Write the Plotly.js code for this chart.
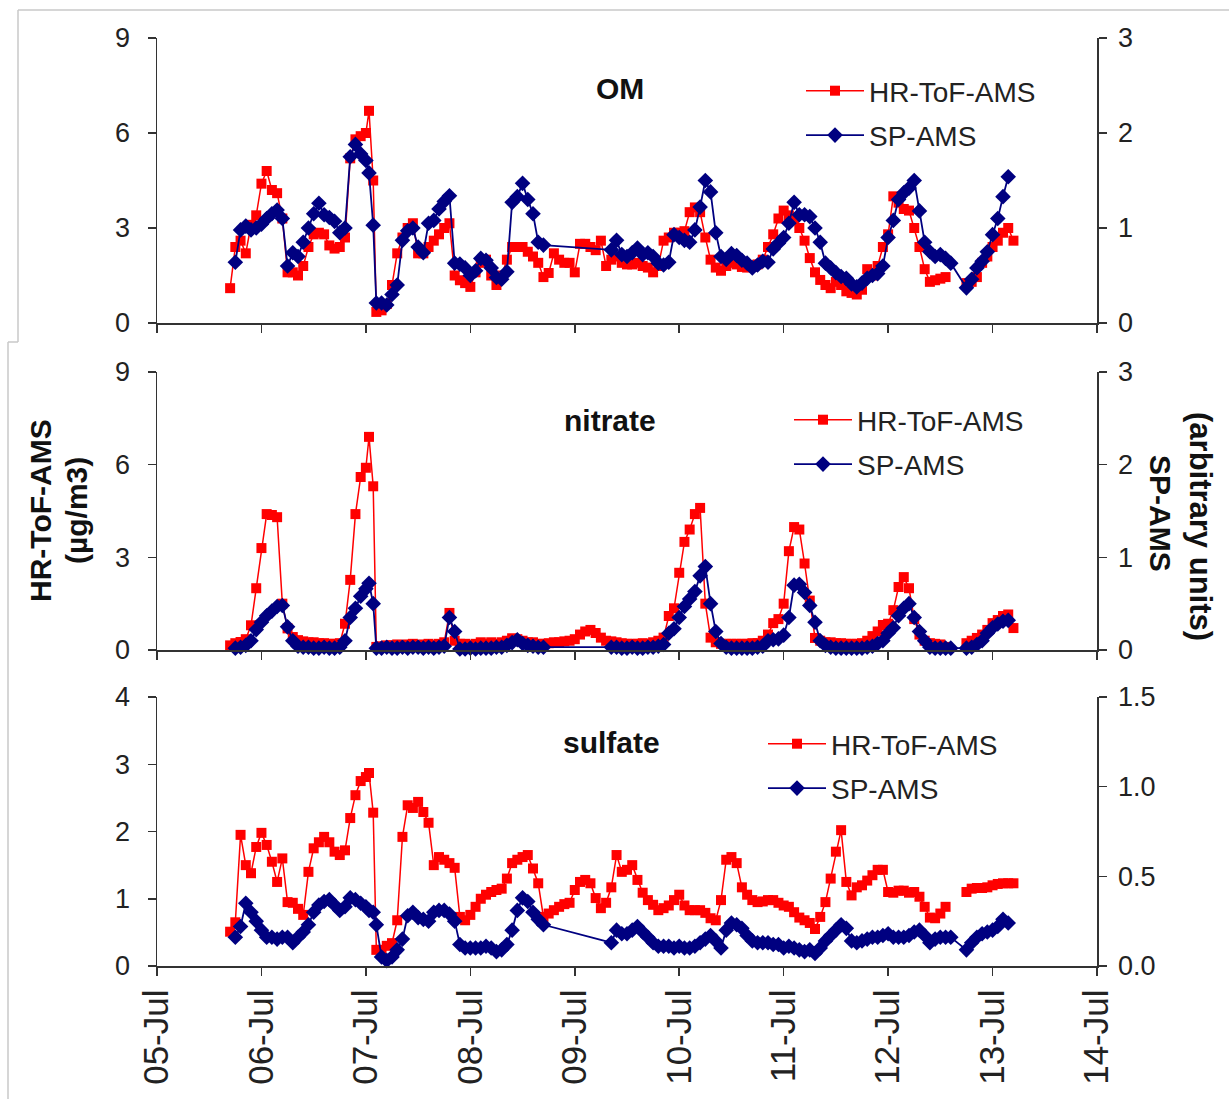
<!DOCTYPE html>
<html>
<head>
<meta charset="utf-8">
<script src="https://cdn.plot.ly/plotly-3.0.1.min.js"></script>
<style>html,body{margin:0;padding:0;background:#fff;}#chart{width:1229px;height:1099px;}</style>
</head>
<body>
<div id="chart"></div>
<script>
// ---- tick labels (x = day of July) ----
const dayTicks = [5,6,7,8,9,10,11,12,13,14];
const dayLabels = ['05-Jul','06-Jul','07-Jul','08-Jul','09-Jul','10-Jul','11-Jul','12-Jul','13-Jul','14-Jul'];

// ---- HR-ToF-AMS sample times (day of July) ----
const hrTime = [
 5.70,5.75,5.80,5.85,5.90,5.95,
 6.00,6.05,6.10,6.15,6.20,6.25,6.30,6.35,6.40,6.45,6.50,6.55,6.60,6.65,6.70,6.75,6.80,6.85,6.90,6.95,
 7.00,7.03,7.07,7.10,7.15,7.20,7.25,7.30,7.35,7.40,7.45,7.50,7.55,7.60,7.65,7.70,7.75,7.80,7.85,7.90,7.95,
 8.00,8.05,8.10,8.15,8.20,8.25,8.30,8.35,8.40,8.45,8.50,8.55,8.60,8.65,8.70,8.75,8.80,8.85,8.90,8.95,
 9.00,9.05,9.10,9.15,9.20,9.25,9.30,9.35,9.40,9.45,9.50,9.55,9.60,9.65,9.70,9.75,9.80,9.85,9.90,9.95,
 10.00,10.05,10.10,10.15,10.20,10.25,10.30,10.35,10.40,10.45,10.50,10.55,10.60,10.65,10.70,10.75,10.80,10.85,10.90,10.95,
 11.00,11.05,11.10,11.15,11.20,11.25,11.30,11.35,11.40,11.45,11.50,11.55,11.60,11.65,11.70,11.75,11.80,11.85,11.90,11.95,
 12.00,12.05,12.10,12.15,12.20,12.25,12.30,12.35,12.40,12.45,12.50,12.55,12.60,12.65,12.70,12.75,12.80,12.85,12.90,12.95,
 13.00,13.05,13.10,13.15,13.20];

// HR-ToF-AMS concentrations (ug/m3)
const hrOM = [
 1.1,2.4,2.6,2.2,3.1,3.4,
 4.4,4.8,4.2,4.1,3.3,1.6,1.6,1.5,1.8,2.4,2.8,2.85,2.8,2.45,2.35,2.4,2.7,5.2,5.8,5.9,
 6.0,6.7,4.5,0.35,0.4,0.6,1.2,2.2,2.7,3.0,3.15,2.2,2.2,2.4,2.6,2.8,3.0,3.15,1.5,1.35,1.26,
 1.14,1.6,1.9,2.0,1.5,1.2,1.5,2.0,2.4,2.4,2.4,2.25,2.1,1.9,1.45,1.58,2.2,2.0,1.9,1.9,
 1.6,2.5,2.5,2.4,2.3,2.6,1.8,2.0,2.1,1.9,1.85,1.85,1.9,1.8,1.75,1.6,1.8,2.6,2.7,2.85,
 2.85,2.9,3.5,3.65,3.5,2.7,2.0,1.75,1.65,1.8,1.9,1.85,1.77,1.75,1.77,1.85,2.0,2.4,2.8,3.3,
 3.55,3.4,3.3,3.0,2.6,2.05,1.6,1.36,1.2,1.1,1.3,1.2,1.0,0.95,0.9,1.05,1.7,1.5,1.8,2.4,
 2.8,4.0,3.8,3.6,3.55,3.0,2.4,1.7,1.3,1.35,1.4,1.45,null,null,null,1.26,1.3,1.45,1.9,2.1,
 2.4,2.6,2.85,3.0,2.6];
const hrNitrate = [
 0.15,0.22,0.26,0.35,0.8,2.0,
 3.3,4.4,4.37,4.3,1.5,0.7,0.42,0.32,0.28,0.25,0.25,0.22,0.22,0.2,0.2,0.22,0.85,2.27,4.4,5.6,
 5.9,6.9,5.3,0.1,0.12,0.15,0.15,0.18,0.15,0.18,0.2,0.15,0.18,0.2,0.15,0.2,0.25,1.2,0.3,0.2,0.2,
 0.15,0.2,0.25,0.2,0.25,0.2,0.25,0.3,0.38,0.35,0.3,0.25,0.25,0.2,0.2,0.22,0.25,0.25,0.28,0.3,
 0.35,0.5,0.6,0.65,0.55,0.4,0.3,0.28,0.25,0.22,0.2,0.2,0.2,0.22,0.2,0.25,0.3,0.4,1.1,1.35,
 2.5,3.5,3.9,4.4,4.6,1.5,0.4,0.25,0.2,0.2,0.2,0.2,0.2,0.2,0.22,0.22,0.3,0.5,0.87,1.0,
 1.5,3.2,3.98,3.9,2.8,1.6,0.39,0.3,0.25,0.25,0.22,0.22,0.2,0.2,0.2,0.22,0.3,0.45,0.6,0.81,
 0.85,1.29,2.04,2.36,2.0,1.0,0.5,0.3,0.22,0.2,0.18,0.1,null,null,null,0.22,0.3,0.39,0.5,0.65,
 0.87,0.97,1.1,1.15,0.71];
const hrSulfate = [
 0.51,0.65,1.95,1.5,1.38,1.77,
 1.98,1.8,1.55,1.25,1.6,0.95,0.94,0.85,0.76,1.4,1.75,1.84,1.92,1.84,1.7,1.65,1.72,2.2,2.54,2.75,
 2.81,2.87,2.28,0.24,0.24,0.3,0.34,0.68,1.92,2.39,2.35,2.44,2.29,2.13,1.5,1.62,1.58,1.53,1.46,0.73,0.68,
 0.76,0.88,1.0,1.06,1.1,1.13,1.15,1.3,1.53,1.58,1.62,1.65,1.45,1.23,0.73,0.78,0.83,0.88,0.92,0.94,
 1.13,1.25,1.28,1.23,1.01,0.86,0.94,1.17,1.65,1.4,1.43,1.5,1.28,1.09,0.98,0.91,0.83,0.86,0.9,0.98,
 1.06,0.9,0.83,0.83,0.83,0.79,0.71,0.68,0.98,1.58,1.62,1.53,1.17,1.06,0.98,0.95,0.96,0.98,0.98,0.94,
 0.9,0.88,0.8,0.72,0.68,0.64,0.55,0.73,0.95,1.3,1.7,2.02,1.25,1.05,1.17,1.2,1.27,1.35,1.43,1.43,
 1.1,1.09,1.12,1.12,1.09,1.1,1.03,0.88,0.72,0.71,0.78,0.88,null,null,null,1.1,1.15,1.16,1.16,1.17,
 1.2,1.22,1.23,1.23,1.23];

// ---- SP-AMS sample times (day of July) ----
const spTime = [
 5.75,5.80,5.85,5.90,5.95,
 6.00,6.05,6.10,6.15,6.20,6.25,6.30,6.35,6.40,6.45,6.50,6.55,6.60,6.65,6.70,6.75,6.80,6.85,6.90,6.95,
 7.00,7.03,7.07,7.10,7.15,7.20,7.25,7.30,7.35,7.40,7.45,7.50,7.55,7.60,7.65,7.70,7.75,7.80,7.85,7.90,7.95,
 8.00,8.05,8.10,8.15,8.20,8.25,8.30,8.35,8.40,8.45,8.50,8.55,8.60,8.65,8.70,
 9.35,9.40,9.45,9.50,9.55,9.60,9.65,9.70,9.75,9.80,9.85,9.90,9.95,
 10.00,10.05,10.10,10.15,10.20,10.25,10.30,10.35,10.40,10.45,10.50,10.55,10.60,10.65,10.70,10.75,10.80,10.85,10.90,10.95,
 11.00,11.05,11.10,11.15,11.20,11.25,11.30,11.35,11.40,11.45,11.50,11.55,11.60,11.65,11.70,11.75,11.80,11.85,11.90,11.95,
 12.00,12.05,12.10,12.15,12.20,12.25,12.30,12.35,12.40,12.45,12.50,12.55,12.60,
 12.75,12.80,12.85,12.90,12.95,
 13.00,13.05,13.10,13.15];

// SP-AMS signals (arbitrary units)
const spOM = [
 0.64,0.98,1.02,0.98,1.0,
 1.04,1.1,1.15,1.19,1.1,0.6,0.74,0.7,0.85,1.0,1.15,1.26,1.14,1.11,1.07,0.95,1.0,1.75,1.88,1.78,
 1.71,1.58,1.03,0.21,0.21,0.19,0.3,0.4,0.87,0.97,1.0,0.8,0.74,1.05,1.08,1.2,1.28,1.34,0.63,0.62,0.58,
 0.5,0.55,0.68,0.66,0.58,0.48,0.46,0.54,1.27,1.33,1.47,1.3,1.15,0.85,0.82,
 0.77,0.87,0.72,0.7,0.74,0.79,0.72,0.74,0.7,0.63,0.61,0.64,0.93,
 0.9,0.87,0.85,0.98,1.22,1.5,1.38,0.95,0.7,0.67,0.73,0.71,0.66,0.63,0.58,0.61,0.65,0.64,0.78,0.84,
 0.9,1.05,1.27,1.14,1.14,1.12,1.0,0.85,0.63,0.58,0.53,0.49,0.47,0.41,0.38,0.42,0.47,0.5,0.52,0.6,
 0.9,1.08,1.3,1.37,1.42,1.5,1.18,0.85,0.75,0.7,0.72,0.68,0.63,
 0.37,0.46,0.58,0.65,0.75,
 0.93,1.1,1.33,1.54];
const spNitrate = [
 0.02,0.03,0.05,0.1,0.22,
 0.3,0.37,0.42,0.47,0.48,0.25,0.1,0.04,0.03,0.03,0.02,0.02,0.03,0.02,0.02,0.03,0.1,0.35,0.45,0.58,
 0.66,0.72,0.5,0.02,0.02,0.03,0.02,0.02,0.03,0.02,0.03,0.03,0.02,0.03,0.02,0.03,0.04,0.35,0.2,0.01,0.01,
 0.02,0.01,0.02,0.02,0.02,0.03,0.03,0.05,0.08,0.11,0.07,0.05,0.04,0.03,0.03,
 0.03,0.03,0.02,0.02,0.03,0.02,0.02,0.03,0.03,0.04,0.06,0.18,0.23,
 0.35,0.47,0.55,0.63,0.8,0.9,0.5,0.2,0.07,0.03,0.02,0.02,0.02,0.02,0.02,0.03,0.04,0.1,0.11,0.12,
 0.16,0.35,0.7,0.71,0.62,0.48,0.3,0.1,0.05,0.03,0.02,0.02,0.02,0.02,0.02,0.02,0.03,0.04,0.07,0.1,
 0.18,0.24,0.37,0.45,0.5,0.35,0.2,0.1,0.03,0.02,0.02,0.02,0.02,
 0.02,0.03,0.06,0.1,0.18,
 0.24,0.28,0.31,0.32];
const spSulfate = [
 0.16,0.22,0.35,0.3,0.25,
 0.2,0.16,0.16,0.15,0.16,0.16,0.13,0.16,0.19,0.23,0.3,0.34,0.36,0.37,0.34,0.31,0.33,0.38,0.37,0.35,
 0.33,0.31,0.3,0.23,0.05,0.03,0.05,0.09,0.15,0.28,0.3,0.27,0.26,0.25,0.3,0.31,0.31,0.29,0.25,0.12,0.1,
 0.1,0.1,0.1,0.11,0.1,0.08,0.09,0.12,0.2,0.31,0.38,0.36,0.3,0.26,0.23,
 0.13,0.2,0.18,0.18,0.2,0.22,0.19,0.16,0.13,0.11,0.11,0.11,0.1,
 0.11,0.1,0.1,0.11,0.13,0.15,0.17,0.14,0.1,0.2,0.24,0.23,0.21,0.17,0.14,0.13,0.13,0.13,0.12,0.12,
 0.1,0.11,0.1,0.09,0.08,0.09,0.07,0.1,0.14,0.17,0.2,0.23,0.21,0.14,0.13,0.14,0.15,0.16,0.16,0.17,
 0.18,0.16,0.16,0.16,0.17,0.19,0.2,0.17,0.13,0.15,0.16,0.16,0.16,
 0.09,0.13,0.16,0.18,0.19,
 0.2,0.22,0.26,0.24];

// ---- styling ----
const FONT = 'Liberation Sans, Arial, sans-serif';
const RED = '#FF0000', NAVY = '#000080', AX = '#333333';
const PL = 157, PR = 1097, PT = 38, PB = 966;
const px2x = p => (p - PL) / (PR - PL);
const py2y = p => (PB - p) / (PB - PT);

function hrTrace(y, xa, ya, leg) {
  return {x: hrTime, y: y, xaxis: xa, yaxis: ya, type: 'scatter', mode: 'lines+markers',
    name: 'HR-ToF-AMS', legend: leg, legendgroup: leg + 'a', cliponaxis: false,
    line: {color: RED, width: 1.5}, marker: {symbol: 'square', size: 10, color: RED}};
}
function spTrace(y, xa, ya, leg) {
  return {x: spTime, y: y, xaxis: xa, yaxis: ya, type: 'scatter', mode: 'lines+markers',
    name: 'SP-AMS', legend: leg, legendgroup: leg + 'b', cliponaxis: false,
    line: {color: NAVY, width: 1.8}, marker: {symbol: 'diamond', size: 12, color: NAVY}};
}

const data = [
  hrTrace(hrOM, 'x2', 'y', 'legend'),
  spTrace(spOM, 'x2', 'y2', 'legend'),
  hrTrace(hrNitrate, 'x3', 'y3', 'legend2'),
  spTrace(spNitrate, 'x3', 'y4', 'legend2'),
  hrTrace(hrSulfate, 'x', 'y5', 'legend3'),
  spTrace(spSulfate, 'x', 'y6', 'legend3')
];

const xBase = {range: [5, 14], tickvals: dayTicks, ticktext: dayLabels, showgrid: false, zeroline: false,
  showline: true, linecolor: AX, linewidth: 1.5, ticks: 'outside', ticklen: 8, tickwidth: 1.5, tickcolor: AX,
  tickfont: {family: FONT, size: 35, color: '#222'}};
const yL = (dom, anchor, rng, dt) => ({domain: dom, anchor: anchor, range: rng, dtick: dt, tick0: 0,
  showgrid: false, zeroline: false, showline: true, linecolor: AX, linewidth: 1.5,
  ticks: 'outside', ticklen: 8, tickwidth: 1.5, tickcolor: AX, ticklabelstandoff: 12,
  tickfont: {family: FONT, size: 27, color: '#222'}});
const yR = (over, anchor, rng, dt, fmt) => ({overlaying: over, side: 'right', anchor: anchor, range: rng, dtick: dt, tick0: 0,
  tickformat: fmt, showgrid: false, zeroline: false, showline: true, linecolor: AX, linewidth: 1.5,
  ticks: 'outside', ticklen: 8, tickwidth: 1.5, tickcolor: AX, ticklabelstandoff: 6,
  tickfont: {family: FONT, size: 27, color: '#222'}});

const legBase = {bgcolor: 'rgba(0,0,0,0)', borderwidth: 0, font: {family: FONT, size: 28, color: '#222'},
  itemwidth: 58, tracegroupgap: 5, traceorder: 'grouped', xanchor: 'left', yanchor: 'top', itemclick: false};

const ann = (text, px, py, size, bold, angle) => ({xref: 'paper', yref: 'paper', x: px2x(px), y: py2y(py),
  text: bold ? '<b>' + text + '</b>' : text, showarrow: false, textangle: angle || 0,
  xanchor: 'center', yanchor: 'middle', font: {family: FONT, size: size, color: '#111'}});

const frame = (x0, y0, x1, y1) => ({type: 'line', xref: 'paper', yref: 'paper',
  x0: px2x(x0), y0: py2y(y0), x1: px2x(x1), y1: py2y(y1), line: {color: '#c8c8c8', width: 1.5}});

const layout = {
  width: 1229, height: 1099, paper_bgcolor: '#fff', plot_bgcolor: 'rgba(0,0,0,0)',
  margin: {l: PL, r: 1229 - PR, t: PT, b: 1099 - PB, pad: 0},
  font: {family: FONT},
  xaxis: Object.assign({}, xBase, {anchor: 'y5', tickangle: -90, ticklabelstandoff: 0}),
  xaxis2: Object.assign({}, xBase, {anchor: 'y', matches: 'x', showticklabels: false}),
  xaxis3: Object.assign({}, xBase, {anchor: 'y3', matches: 'x', showticklabels: false}),
  yaxis: yL([py2y(323), 1], 'x2', [0, 9], 3),
  yaxis2: yR('y', 'x2', [0, 3], 1, 'd'),
  yaxis3: yL([py2y(650), py2y(372)], 'x3', [0, 9], 3),
  yaxis4: yR('y3', 'x3', [0, 3], 1, 'd'),
  yaxis5: yL([0, py2y(697)], 'x', [0, 4], 1),
  yaxis6: yR('y5', 'x', [0, 1.5], 0.5, '.1f'),
  legend: Object.assign({}, legBase, {x: px2x(801), y: py2y(66)}),
  legend2: Object.assign({}, legBase, {x: px2x(789), y: py2y(395)}),
  legend3: Object.assign({}, legBase, {x: px2x(763), y: py2y(719)}),
  annotations: [
    ann('OM', 620, 88, 30, true),
    ann('nitrate', 610, 420, 30, true),
    ann('sulfate', 611, 742, 30, true),
    ann('HR-ToF-AMS', 40, 511, 30, true, -90),
    ann('(µg/m3)', 76, 511, 30, true, -90),
    ann('SP-AMS', 1161, 513, 30, true, 90),
    ann('(arbitrary units)', 1201, 526, 31, true, 90)
  ],
  shapes: [
    frame(18, 10, 1229, 10),
    frame(18, 10, 18, 342),
    frame(8, 342, 18, 342),
    frame(8, 342, 8, 1099)
  ]
};

Plotly.newPlot('chart', data, layout, {staticPlot: true, displayModeBar: false});
</script>
</body>
</html>
